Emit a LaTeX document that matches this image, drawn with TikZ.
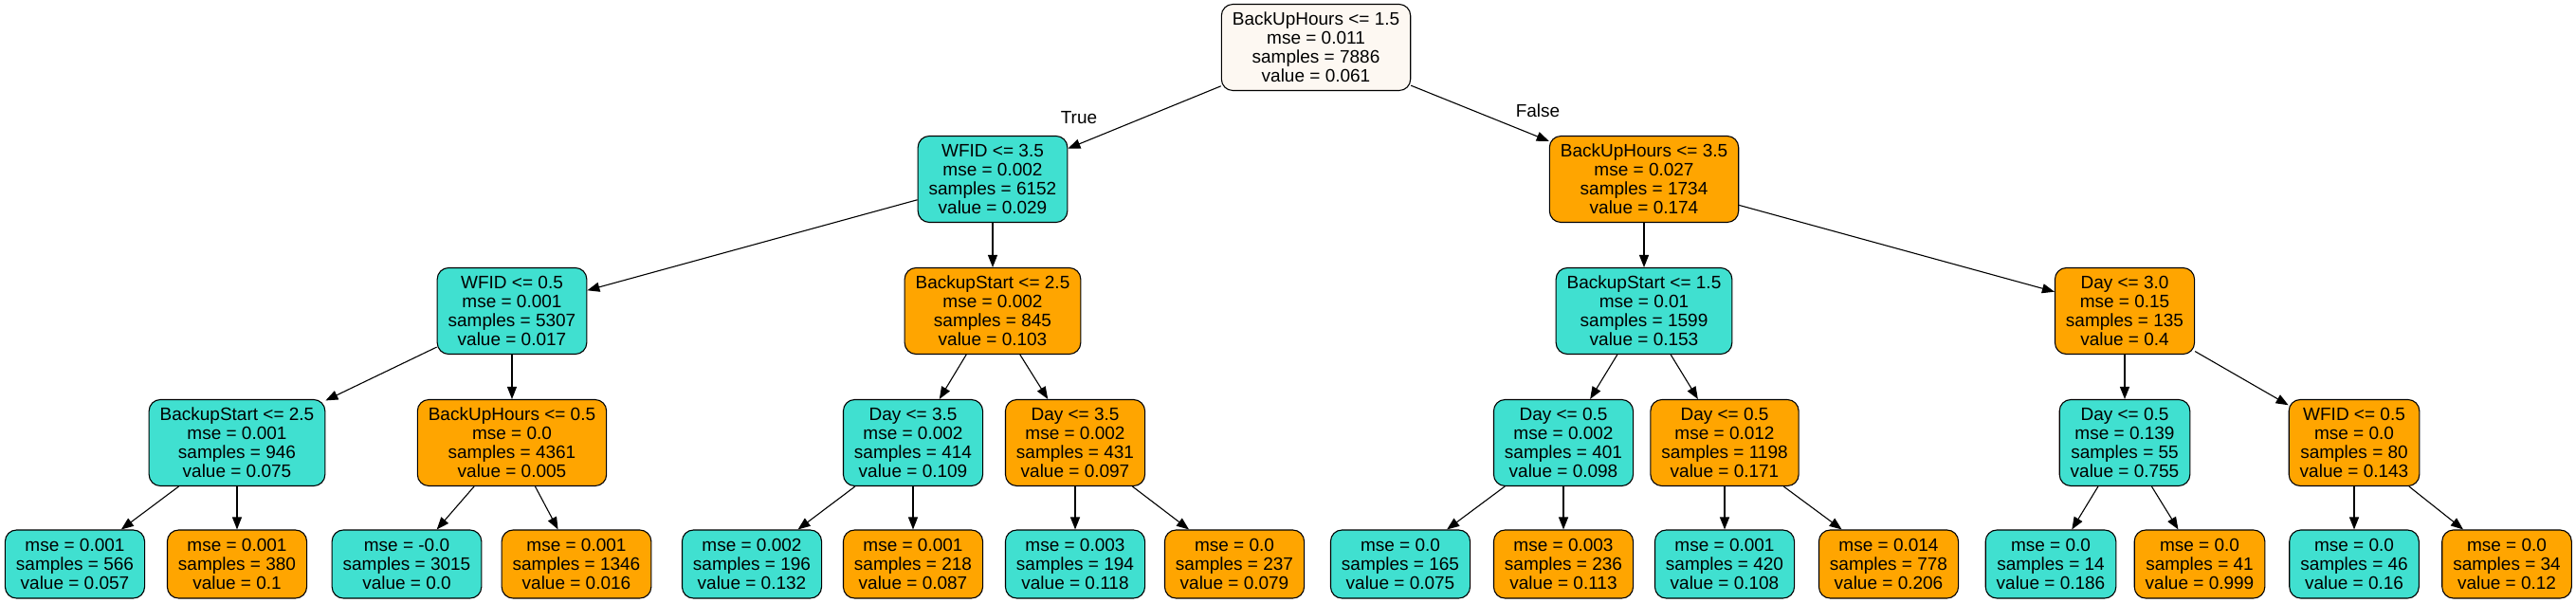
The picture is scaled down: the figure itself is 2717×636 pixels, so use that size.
\documentclass[tikz,border=0pt]{standalone}
\usepackage{fontspec}
\setmainfont{Liberation Sans}
\usetikzlibrary{arrows.meta}
\definecolor{turq}{HTML}{40E0D0}
\definecolor{amber}{HTML}{FFA500}
\definecolor{linen}{HTML}{FDF8F2}

\begin{document}
\begin{tikzpicture}[x=1pt,y=-1pt,
    every node/.style={font=\fontsize{19}{20}\selectfont},
    box/.style={draw, rounded corners=12pt, line width=1.1pt, align=center,
      inner xsep=11.5pt, inner ysep=0pt},
    split/.style={box, minimum height=91pt},
    leaf/.style={box, minimum height=72pt},
    tq/.style={fill=turq},
    og/.style={fill=amber},
    link/.style={-{Triangle[length=13pt,width=10pt]}, line width=1.1pt}]
    \useasboundingbox (0,0) rectangle (2717,636);
    % root and first split
    \node[split, fill=linen] (root) at (1388,50) {BackUpHours <= 1.5\\mse = 0.011\\samples = 7886\\value = 0.061};
    \node[split, tq] (n1) at (1047,189) {WFID <= 3.5\\mse = 0.002\\samples = 6152\\value = 0.029};
    \node[split, og] (n2) at (1734,189) {BackUpHours <= 3.5\\mse = 0.027\\samples = 1734\\value = 0.174};
    % depth 2
    \node[split, tq] (n11) at (540,328) {WFID <= 0.5\\mse = 0.001\\samples = 5307\\value = 0.017};
    \node[split, og] (n12) at (1047,328) {BackupStart <= 2.5\\mse = 0.002\\samples = 845\\value = 0.103};
    \node[split, tq] (n21) at (1734,328) {BackupStart <= 1.5\\mse = 0.01\\samples = 1599\\value = 0.153};
    \node[split, og] (n22) at (2241,328) {Day <= 3.0\\mse = 0.15\\samples = 135\\value = 0.4};
    % depth 3
    \node[split, tq] (n111) at (250,467) {BackupStart <= 2.5\\mse = 0.001\\samples = 946\\value = 0.075};
    \node[split, og] (n112) at (540,467) {BackUpHours <= 0.5\\mse = 0.0\\samples = 4361\\value = 0.005};
    \node[split, tq] (n121) at (963,467) {Day <= 3.5\\mse = 0.002\\samples = 414\\value = 0.109};
    \node[split, og] (n122) at (1134,467) {Day <= 3.5\\mse = 0.002\\samples = 431\\value = 0.097};
    \node[split, tq] (n211) at (1649,467) {Day <= 0.5\\mse = 0.002\\samples = 401\\value = 0.098};
    \node[split, og] (n212) at (1819,467) {Day <= 0.5\\mse = 0.012\\samples = 1198\\value = 0.171};
    \node[split, tq] (n221) at (2241,467) {Day <= 0.5\\mse = 0.139\\samples = 55\\value = 0.755};
    \node[split, og] (n222) at (2483,467) {WFID <= 0.5\\mse = 0.0\\samples = 80\\value = 0.143};
    % leaves
    \foreach \name/\x/\col/\m/\s/\v in {
        l1/79/tq/0.001/566/0.057, l2/250/og/0.001/380/0.1,
        l3/429/tq/-0.0/3015/0.0, l4/608/og/0.001/1346/0.016,
        l5/793/tq/0.002/196/0.132, l6/963/og/0.001/218/0.087,
        l7/1134/tq/0.003/194/0.118, l8/1302/og/0.0/237/0.079,
        l9/1477/tq/0.0/165/0.075, l10/1649/og/0.003/236/0.113,
        l11/1819/tq/0.001/420/0.108, l12/1992/og/0.014/778/0.206,
        l13/2163/tq/0.0/14/0.186, l14/2320/og/0.0/41/0.999,
        l15/2483/tq/0.0/46/0.16, l16/2644/og/0.0/34/0.12}{
      \node[leaf, \col] (\name) at (\x,595) {mse = \m\\samples = \s\\value = \v};
    }
    % connectors
    \foreach \p/\c in {root/n1, root/n2, n1/n11, n1/n12, n2/n21, n2/n22,
        n11/n111, n11/n112, n12/n121, n12/n122, n21/n211, n21/n212, n22/n221, n22/n222,
        n111/l1, n111/l2, n112/l3, n112/l4, n121/l5, n121/l6, n122/l7, n122/l8,
        n211/l9, n211/l10, n212/l11, n212/l12, n221/l13, n221/l14, n222/l15, n222/l16}{
      \draw[link] (\p) -- (\c);
    }
    \node (truelbl) at (1138,124) {True};
    \node (falselbl) at (1622,117) {False};
\end{tikzpicture}
\end{document}
